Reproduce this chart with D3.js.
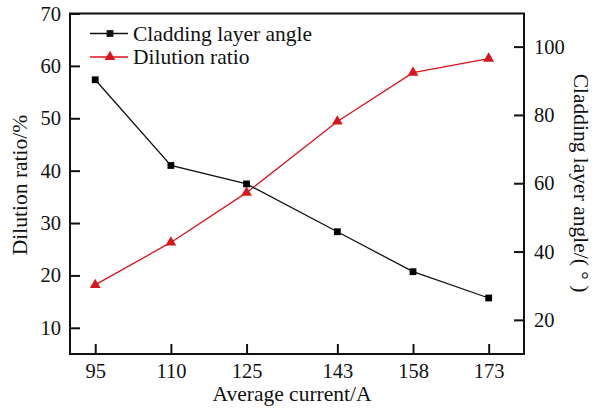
<!DOCTYPE html>
<html>
<head>
<meta charset="utf-8">
<script src="https://cdn.jsdelivr.net/npm/d3@7/dist/d3.min.js"></script>
<style>
  html, body { margin: 0; padding: 0; background: #fff; }
  svg { display: block; }
  text { font-family: "Liberation Serif", "Times New Roman", serif; fill: #111; }
</style>
</head>
<body>
<svg id="chart" width="602" height="411"></svg>
<script>
// Average welding current (A)
const currents = [95, 110, 125, 143, 158, 173];
// Cladding layer angle (°), right axis
const angleValues = [90.3, 65.2, 59.8, 45.8, 34.1, 26.4];
// Dilution ratio (%), left axis
const dilutionValues = [18.2, 26.3, 35.8, 49.4, 58.7, 61.4];

const xTicks = [95, 110, 125, 143, 158, 173];
const leftTicks = [10, 20, 30, 40, 50, 60, 70];
const rightTicks = [20, 40, 60, 80, 100];

const svg = d3.select("#chart");
const plot = { left: 70, right: 524, top: 13.5, bottom: 354 };

const x = d3.scaleLinear().domain([90, 180]).range([plot.left, plot.right]);
const yL = d3.scaleLinear().domain([5, 70]).range([plot.bottom, plot.top]);
const yR = d3.scaleLinear().domain([10, 109.7]).range([plot.bottom, plot.top]);

const tickFont = 20.5;
const labelFont = 21.5;
const tickLen = 10;

// Axes with inward ticks
const xAxis = d3.axisBottom(x).tickValues(xTicks).tickSize(-tickLen).tickPadding(9).tickFormat(d3.format("d"));
const lAxis = d3.axisLeft(yL).tickValues(leftTicks).tickSize(-tickLen).tickPadding(9).tickFormat(d3.format("d"));
const rAxis = d3.axisRight(yR).tickValues(rightTicks).tickSize(-tickLen).tickPadding(10).tickFormat(d3.format("d"));

function style(g) {
  g.select(".domain").remove();
  g.selectAll(".tick line").attr("stroke", "#111").attr("stroke-width", 2);
  g.selectAll(".tick text").attr("font-size", tickFont).attr("fill", "#111")
    .style("font-family", "'Liberation Serif', 'Times New Roman', serif");
}

svg.append("g").attr("transform", `translate(0,${plot.bottom})`).call(xAxis).call(style);
svg.append("g").attr("transform", `translate(${plot.left},0)`).call(lAxis).call(style);
svg.append("g").attr("transform", `translate(${plot.right},0)`).call(rAxis).call(style);

// Frame
svg.append("rect")
  .attr("x", plot.left).attr("y", plot.top)
  .attr("width", plot.right - plot.left).attr("height", plot.bottom - plot.top)
  .attr("fill", "none").attr("stroke", "#111").attr("stroke-width", 2);

// Series
const angleData = currents.map((c, i) => ({ c, v: angleValues[i] }));
const dilData = currents.map((c, i) => ({ c, v: dilutionValues[i] }));

const lineAngle = d3.line().x(d => x(d.c)).y(d => yR(d.v));
const lineDil = d3.line().x(d => x(d.c)).y(d => yL(d.v));

const red = "#d8141c";
const sqSym = d3.symbol().type(d3.symbolSquare).size(46);
const triSym = d3.symbol().type(d3.symbolTriangle).size(50);

svg.append("path").datum(dilData).attr("d", lineDil)
  .attr("fill", "none").attr("stroke", red).attr("stroke-width", 1.3);
svg.append("path").datum(angleData).attr("d", lineAngle)
  .attr("fill", "none").attr("stroke", "#111").attr("stroke-width", 1.3);

svg.selectAll(".tri").data(dilData).enter().append("path")
  .attr("d", triSym).attr("fill", red)
  .attr("transform", d => `translate(${x(d.c)},${yL(d.v)})`);
svg.selectAll(".sq").data(angleData).enter().append("path")
  .attr("d", sqSym).attr("fill", "#000")
  .attr("transform", d => `translate(${x(d.c)},${yR(d.v)})`);

// Legend
const legend = [
  { label: "Cladding layer angle", color: "#111", sym: sqSym, y: 33.5 },
  { label: "Dilution ratio", color: red, sym: triSym, y: 57 }
];
const lg = svg.append("g");
legend.forEach(l => {
  lg.append("line").attr("x1", 90).attr("x2", 128).attr("y1", l.y).attr("y2", l.y)
    .attr("stroke", l.color).attr("stroke-width", 1.3);
  lg.append("path").attr("d", l.sym).attr("fill", l.color)
    .attr("transform", `translate(110,${l.y})`);
  lg.append("text").attr("x", 133).attr("y", l.y).attr("dy", "0.33em")
    .attr("font-size", labelFont).text(l.label);
});

// Axis titles
svg.append("text").attr("x", 292).attr("y", 401)
  .attr("text-anchor", "middle").attr("font-size", labelFont).text("Average current/A");
svg.append("text").attr("transform", "translate(27,185) rotate(-90)")
  .attr("text-anchor", "middle").attr("font-size", labelFont).text("Dilution ratio/%");
svg.append("text").attr("transform", "translate(574,183) rotate(90)")
  .attr("text-anchor", "middle").attr("font-size", labelFont).text("Cladding layer angle/( ° )");
</script>
</body>
</html>
